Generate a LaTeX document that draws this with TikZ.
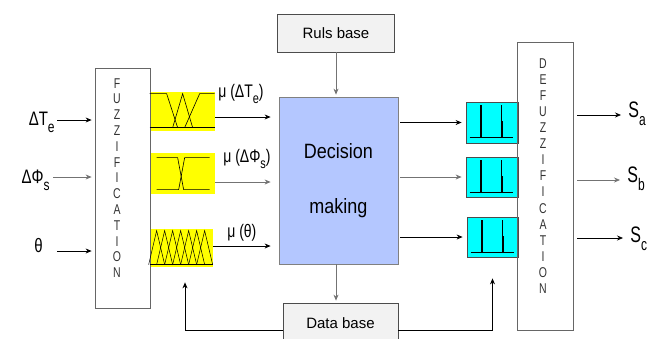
\documentclass[tikz,border=0pt]{standalone}
\usepackage{fontspec}
\setmainfont{Liberation Sans}
\usetikzlibrary{arrows.meta,shapes}
\definecolor{dmblue}{RGB}{180,199,255}
\definecolor{mfyellow}{RGB}{255,255,0}
\definecolor{outcyan}{RGB}{0,255,255}
\definecolor{basegray}{RGB}{242,242,242}
\newcommand{\lowsub}[2][12]{\raisebox{-.38em}{\fontsize{#1}{#1}\selectfont #2}}
\newcommand{\tallbox}[2][1.3]{\scalebox{1}[#1]{#2}}
\newcommand{\vletters}[2]{\scalebox{1}[1.35]{\parbox{1.2em}{\centering\fontsize{10.5}{#1}\selectfont #2}}}

\begin{document}
\begin{tikzpicture}[>={Stealth[length=6pt,width=5pt]}, x=1pt, y=-1pt, line width=0.7pt]
  \tikzstyle{every node}=[font=\fontsize{15}{18}\selectfont, inner sep=0pt]
  \tikzstyle{stage}=[draw=black!60, line width=0.8pt]
  \tikzstyle{letters}=[text=black!80]
  \tikzstyle{basebox}=[draw=black!70, fill=basegray, line width=0.8pt]
  \tikzstyle{mfbox}=[fill=mfyellow]
  \tikzstyle{outbox}=[draw=black!70, fill=outcyan, line width=0.8pt]
  \tikzstyle{garr}=[draw=black!55]
  \useasboundingbox (0,0) rectangle (658,338);
  %%
  \node (y1) at (182.5,111.5) [mfbox, minimum width=65, minimum height=39] {};
  \node (y2) at (182.5,173.5) [mfbox, minimum width=65, minimum height=41] {};
  \node (y3) at (181.5,248) [mfbox, minimum width=63, minimum height=38] {};
  \node (c1) at (492,122.5) [outbox, minimum width=52, minimum height=41] {};
  \node (c2) at (492,177) [outbox, minimum width=52, minimum height=40] {};
  \node (c3) at (492.5,237) [outbox, minimum width=51, minimum height=40] {};
  \node (fz) at (122.5,188) [stage, minimum width=55, minimum height=240] {};
  \node (df) at (545,186) [stage, minimum width=56, minimum height=288] {};
  \node (fzt) at (117,178) [letters] {\vletters{11.7}{F\\U\\Z\\Z\\I\\F\\I\\C\\A\\T\\I\\O\\N}};
  \node (dft) at (543,176) [letters] {\vletters{11.9}{D\\E\\F\\U\\Z\\Z\\I\\F\\I\\C\\A\\T\\I\\O\\N}};
  \node (dm) at (338.5,180.5) [draw=black!50, line width=0.8pt, fill=dmblue, minimum width=119, minimum height=167, align=center, font=\fontsize{18}{55}\selectfont] {\tallbox[1.15]{Decision}\\\tallbox[1.15]{making}};
  \node (ru) at (336,33) [basebox, minimum width=117, minimum height=38] {Ruls base};
  \node (db) at (340.5,323) [basebox, minimum width=115, minimum height=40] {Data base};
  %% input and output labels
  \node (dTe) at (55,125) [anchor=base east] {\tallbox{ΔT\lowsub{e}}};
  \node (dPs) at (50,183) [anchor=base east] {\tallbox{ΔΦ\lowsub{s}}};
  \node (th) at (43,252) [anchor=base east] {\tallbox{θ}};
  \node (mu1) at (218,97) [anchor=base west, font=\fontsize{14}{16}\selectfont] {\tallbox{μ (ΔT\lowsub[11]{e})}};
  \node (mu2) at (223,162) [anchor=base west, font=\fontsize{14}{16}\selectfont] {\tallbox{μ (ΔΦ\lowsub[11]{s})}};
  \node (mu3) at (227,237) [anchor=base west, font=\fontsize{14}{16}\selectfont] {\tallbox{μ (θ)}};
  \node (sa) at (628,117) [anchor=base west, font=\fontsize{16}{18}\selectfont] {\tallbox[1.4]{S\lowsub{a}}};
  \node (sb) at (627,182) [anchor=base west, font=\fontsize{16}{18}\selectfont] {\tallbox[1.4]{S\lowsub{b}}};
  \node (sc) at (630,242) [anchor=base west, font=\fontsize{16}{18}\selectfont] {\tallbox[1.4]{S\lowsub{c}}};
  %% membership functions
  \begin{scope}[shift={(y1.north west)}, line width=0.6pt]
    \draw (0,36) -- (65,36);
    \draw (0,2) -- (17,2) -- (28,36);
    \draw (23,36) -- (33,2) -- (43,36);
    \draw (35,36) -- (50,2) -- (65,2);
  \end{scope}
  \begin{scope}[shift={(y2.north west)}, line width=0.6pt]
    \draw (7,5) -- (28,5) -- (34,37) -- (60,37);
    \draw (7,37) -- (29,37) -- (35,5) -- (60,5);
  \end{scope}
  \begin{scope}[shift={(y3.north west)}, line width=0.5pt]
    \draw (0,36) -- (63,36);
    \foreach \p in {7,15,...,55}
      \draw (\p-8,36) -- (\p,2) -- (\p+8,36);
  \end{scope}
  \foreach \c in {c1,c2,c3} {
    \begin{scope}[shift={(\c.north west)}]
      \draw[line width=0.6pt] (4,36) -- (47,36);
      \draw[line width=1.8pt] (15,36) -- (15,3);
      \draw[line width=0.8pt] (36,36) -- (36,3);
      \draw[line width=1.8pt] (36,36) -- (36,19);
    \end{scope}
  }
  %% connectors
  \coordinate (i1) at ([yshift=5pt]dTe.base east);
  \coordinate (i2) at ([yshift=6pt]dPs.base east);
  \coordinate (i3) at ([xshift=14pt,yshift=1pt]th.base east);
  \draw [->, shorten <=2pt, shorten >=3pt] (i1) -- (i1 -| fz.west);
  \draw [->, garr, shorten <=3pt, shorten >=3pt] (i2) -- (i2 -| fz.west);
  \draw [->, shorten >=3pt] (i3) -- (i3 -| fz.west);
  \coordinate (a1) at ([yshift=-5.5pt]y1.east);
  \coordinate (a2) at ([yshift=-8.5pt]y2.east);
  \coordinate (a3) at ([yshift=2pt]y3.east);
  \draw [->, shorten >=8pt] (a1) -- (a1 -| dm.west);
  \draw [->, garr, shorten >=8pt] (a2) -- (a2 -| dm.west);
  \draw [->, shorten >=8pt] (a3) -- (a3 -| dm.west);
  \draw [->, shorten <=2pt, shorten >=4pt] (c1 -| dm.east) -- (c1.west);
  \draw [->, garr, shorten <=2pt, shorten >=4pt] (c2 -| dm.east) -- (c2.west);
  \draw [->, shorten <=2pt, shorten >=4pt] (c3 -| dm.east) -- (c3.west);
  \coordinate (o1) at ([yshift=2pt]sa.base west);
  \coordinate (o2) at ([yshift=2pt]sb.base west);
  \coordinate (o3) at ([yshift=4pt]sc.base west);
  \draw [->, shorten <=4pt, shorten >=7pt] (o1 -| df.east) -- (o1);
  \draw [->, garr, shorten <=4pt, shorten >=7pt] (o2 -| df.east) -- (o2);
  \draw [->, shorten <=4pt, shorten >=7pt] (o3 -| df.east) -- (o3);
  \draw [->, garr, shorten >=2pt] (ru.south) -- (ru.south |- dm.north);
  \draw [->, garr, shorten >=2pt] (dm.south -| ru.south) -- (db.north -| ru.south);
  \draw [->] ([yshift=-7pt]db.west) -| ([xshift=3.5pt,yshift=-15pt]y3.south);
  \draw [->] ([yshift=-7pt]db.east) -| ([yshift=-21pt]c3.south);
\end{tikzpicture}
\end{document}
